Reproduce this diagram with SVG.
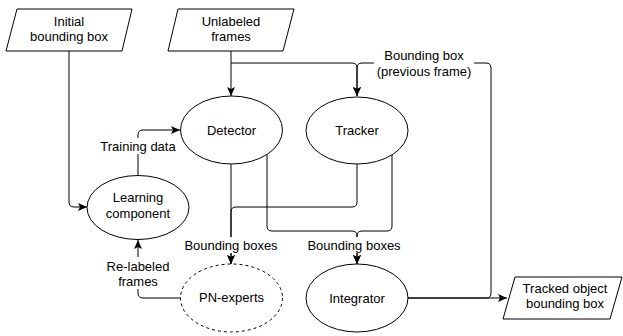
<svg xmlns="http://www.w3.org/2000/svg" width="623" height="336" viewBox="0 0 623 336">
<style>
.shape{fill:#fff;stroke:#000;stroke-width:1}
.dash{stroke-dasharray:3 3}
.edge{fill:none;stroke:#000;stroke-width:1}
.arr{marker-end:url(#arrow)}
text{font-family:"Liberation Sans",Arial,sans-serif;font-size:13px;fill:#000;text-anchor:middle}
.lbg{fill:#fff;stroke:none}
</style>
<defs>
<marker id="arrow" markerUnits="userSpaceOnUse" markerWidth="9" markerHeight="8" viewBox="0 0 9 8" refX="9" refY="4" orient="auto">
<path d="M0,0 L9,4 L0,8 L2,4 z" fill="#000"/>
</marker>
</defs>
<g id="connectors">
<path class="edge arr" d="M69,51 V202 Q69,207 74,207 H87"/>
<path class="edge arr" d="M231,51 V96"/>
<path class="edge arr" d="M231,63 H352 Q357,63 357,68 V96"/>
<path class="edge arr" d="M138,175 V135 Q138,130 143,130 H180"/>
<path class="edge arr" d="M231,164 V264"/>
<path class="edge arr" d="M357,164 V202 Q357,207 352,207 H236 Q231,207 231,212 V264"/>
<path class="edge arr" d="M267,154 V226 Q267,231 272,231 H352 Q357,231 357,236 V264"/>
<path class="edge arr" d="M392,154 V226 Q392,231 387,231 H362 Q357,231 357,236 V264"/>
<path class="edge arr" d="M181,298 H143 Q138,298 138,293 V240"/>
<path class="edge arr" d="M408,298 H507"/>
<path class="edge arr" d="M408,298 H486 Q491,298 491,293 V68 Q491,63 486,63 H362 Q357,63 357,68 V96"/>
<g id="edge-labels">
<rect class="lbg" x="99" y="138" width="78" height="16"/>
<text x="138" y="150.5">Training data</text>
<rect class="lbg" x="183" y="237" width="96" height="16"/>
<text x="231" y="249.5">Bounding boxes</text>
<rect class="lbg" x="306" y="237" width="96" height="16"/>
<text x="354" y="249.5">Bounding boxes</text>
<rect class="lbg" x="104" y="257" width="68" height="32"/>
<text x="138" y="270.5">Re-labeled</text>
<text x="138" y="285.5">frames</text>
<rect class="lbg" x="374" y="47" width="100" height="32"/>
<text x="424" y="59.5">Bounding box</text>
<text x="424" y="75.5">(previous frame)</text>
</g>
</g>
<g id="initial-bbox">
<polygon class="shape" points="17,9 132,9 122,51 6,51"/>
<text x="69" y="25.5">Initial</text>
<text x="69" y="40.5">bounding box</text>
</g>
<g id="unlabeled-frames">
<polygon class="shape" points="178,9 294,9 283,51 168,51"/>
<text x="231" y="25.5">Unlabeled</text>
<text x="231" y="40.5">frames</text>
</g>
<g id="detector">
<ellipse class="shape" cx="231.5" cy="130" rx="51" ry="34"/>
<text x="231.5" y="134.5">Detector</text>
</g>
<g id="tracker">
<ellipse class="shape" cx="357" cy="130.5" rx="51" ry="33.5"/>
<text x="357" y="134.5">Tracker</text>
</g>
<g id="learning">
<ellipse class="shape" cx="138" cy="207.5" rx="51" ry="32"/>
<text x="138" y="201.5">Learning</text>
<text x="138" y="217.5">component</text>
</g>
<g id="pn-experts">
<ellipse class="shape dash" cx="231.5" cy="298" rx="51" ry="34"/>
<text x="231.5" y="302">PN-experts</text>
</g>
<g id="integrator">
<ellipse class="shape" cx="357" cy="298" rx="51" ry="34"/>
<text x="357" y="302.5">Integrator</text>
</g>
<g id="tracked-object">
<polygon class="shape" points="515,277 622,277 610,319 503,319"/>
<text x="565" y="292.5">Tracked object</text>
<text x="565" y="307.5">bounding box</text>
</g>
</svg>
